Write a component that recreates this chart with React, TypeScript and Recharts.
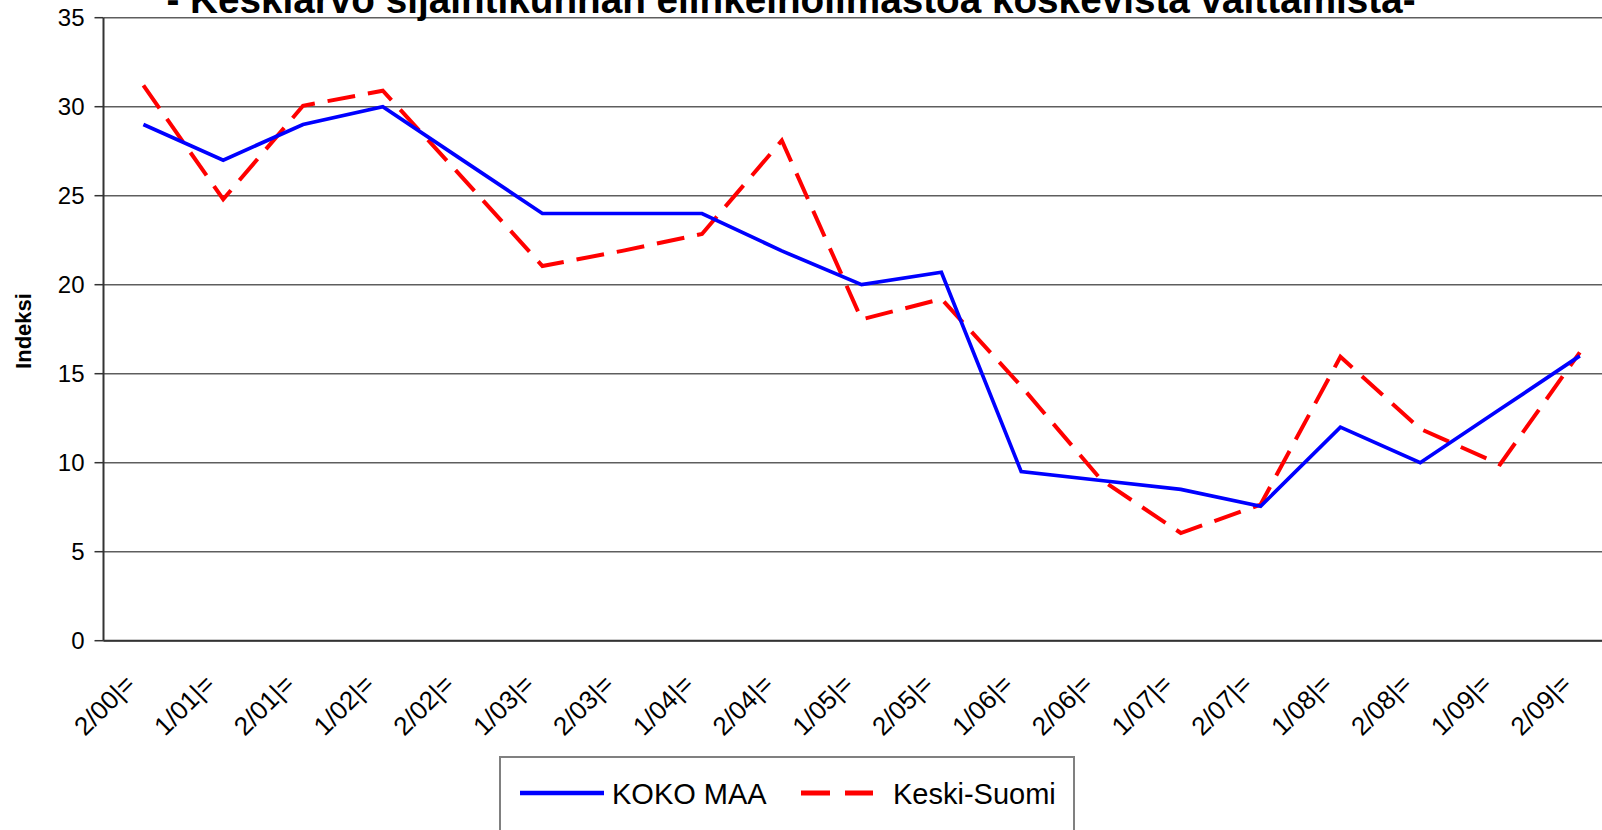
import React from "react";
import { LineChart, Line, XAxis, YAxis, CartesianGrid } from "recharts";

const categories = [
  "2/00|=", "1/01|=", "2/01|=", "1/02|=", "2/02|=", "1/03|=", "2/03|=", "1/04|=", "2/04|=", "1/05|=",
  "2/05|=", "1/06|=", "2/06|=", "1/07|=", "2/07|=", "1/08|=", "2/08|=", "1/09|=", "2/09|=",
];
const kokoMaa = [29, 27, 29, 30, 27, 24, 24, 24, 21.9, 20, 20.7, 9.5, 9, 8.5, 7.55, 12, 10, 13, 16];
const keskiSuomi = [31.2, 24.8, 30.05, 30.9, 26, 21.05, 21.9, 22.85, 28.1, 18.05, 19.2, 14.3, 9.05, 6.05, 7.65, 15.95, 11.9, 9.9, 16.2];
const yTicks = [0, 5, 10, 15, 20, 25, 30, 35];
const seriesNames = ["KOKO MAA", "Keski-Suomi"];
const titleText = "- Keskiarvo sijaintikunnan elinkeinoilmastoa koskevista väittämistä-";
const yAxisTitle = "Indeksi";

const data = categories.map((c, i) => ({ cat: c, koko: kokoMaa[i], keski: keskiSuomi[i] }));

const FONT = "'Liberation Sans', Arial, sans-serif";
const BLUE = "#0000FF";
const RED = "#FF0000";

const XTick = (props: any) => {
  const { x, y, payload } = props;
  return (
    <g transform={`translate(${x - 7},${y + 45})`}>
      <text textAnchor="end" transform="rotate(-45)" fontSize={26} fontFamily={FONT} fill="#000">
        {payload.value}
      </text>
    </g>
  );
};

export default function App() {
  return (
    <div style={{ position: "absolute", left: 0, top: 0, width: 1602, height: 830, overflow: "hidden", background: "#fff" }}>
      <div style={{ position: "absolute", left: 0, top: 0 }}>
        <LineChart
          width={1640}
          height={830}
          data={data}
          margin={{ top: 17.7, left: 3.5, right: 20.3, bottom: 89.3 }}
        >
          <CartesianGrid vertical={false} stroke="#5e5e5e" strokeWidth={1.5} />
          <XAxis
            dataKey="cat"
            interval={0}
            padding={{ left: 39.9, right: 39.9 }}
            tickLine={false}
            tickSize={0}
            tickMargin={0}
            height={100}
            axisLine={{ stroke: "#333", strokeWidth: 2 }}
            tick={<XTick />}
          />
          <YAxis
            type="number"
            domain={[0, 35]}
            ticks={yTicks}
            interval={0}
            width={100}
            tickSize={9}
            tickMargin={10}
            axisLine={{ stroke: "#333", strokeWidth: 2 }}
            tickLine={{ stroke: "#333", strokeWidth: 1.5 }}
            tick={{ fontSize: 24, fill: "#000", fontFamily: FONT }}
          />
          <Line
            type="linear"
            dataKey="keski"
            stroke={RED}
            strokeWidth={4}
            strokeDasharray="28 13"
            dot={false}
            isAnimationActive={false}
          />
          <Line
            type="linear"
            dataKey="koko"
            stroke={BLUE}
            strokeWidth={3.7}
            dot={false}
            isAnimationActive={false}
          />
        </LineChart>
      </div>
      <svg
        width={1602}
        height={830}
        style={{ position: "absolute", left: 0, top: 0, pointerEvents: "none" }}
      >
        <text x={791} y={13} textAnchor="middle" fontSize={38.7} fontWeight="bold" fontFamily={FONT} fill="#000">
          {titleText}
        </text>
        <text
          x={31}
          y={331}
          transform="rotate(-90 31 331)"
          textAnchor="middle"
          fontSize={22}
          fontWeight="bold"
          fontFamily={FONT}
          fill="#000"
        >
          {yAxisTitle}
        </text>
        <rect x={500} y={757} width={574} height={120} fill="#fff" stroke="#808080" strokeWidth={2} />
        <line x1={520} y1={793} x2={604} y2={793} stroke={BLUE} strokeWidth={4.5} />
        <text x={612} y={804} fontSize={29} fontFamily={FONT} fill="#000">
          {seriesNames[0]}
        </text>
        <line x1={801} y1={793} x2={873} y2={793} stroke={RED} strokeWidth={5} strokeDasharray="29 15" />
        <text x={893} y={804} fontSize={29} fontFamily={FONT} fill="#000">
          {seriesNames[1]}
        </text>
      </svg>
    </div>
  );
}
